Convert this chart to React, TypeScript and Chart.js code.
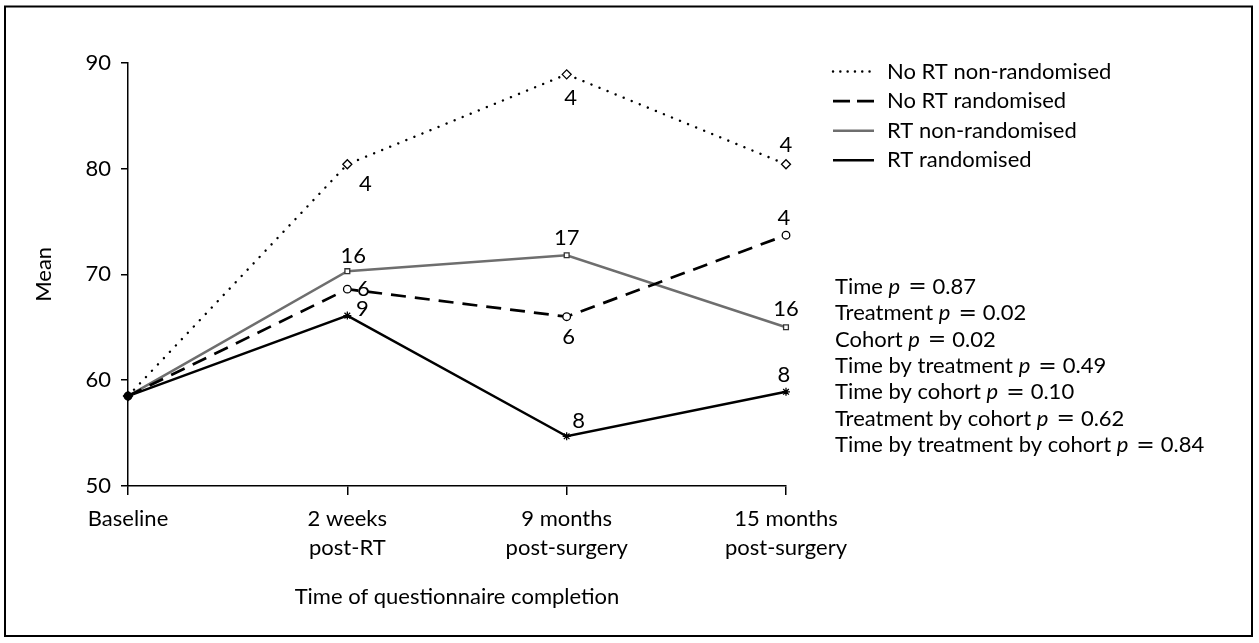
import React, { useEffect, useRef } from "react";
import { Chart, registerables } from "chart.js";

Chart.register(...registerables);

// ---------- data ----------
const categories = [
  ["Baseline"],
  ["2 weeks", "post-RT"],
  ["9 months", "post-surgery"],
  ["15 months", "post-surgery"],
];
const seriesNames = ["No RT non-randomised", "No RT randomised", "RT non-randomised", "RT randomised"];
const noRtNonRand = [58.5, 80.4, 88.9, 80.4];
const noRtRand = [58.5, 68.6, 66.0, 73.7];
const rtNonRand = [58.5, 70.3, 71.8, 65.0];
const rtRand = [58.5, 66.1, 54.7, 58.9];
const noRtNonRandN = ["", "4", "4", "4"];
const noRtRandN = ["", "6", "6", "4"];
const rtNonRandN = ["", "16", "17", "16"];
const rtRandN = ["", "9", "8", "8"];
const yMin = 50;
const yMax = 90;
const yStep = 10;
const yTitle = "Mean";
const xTitle = "Time of questionnaire completion";
const statNames = [
  "Time",
  "Treatment",
  "Cohort",
  "Time by treatment",
  "Time by cohort",
  "Treatment by cohort",
  "Time by treatment by cohort",
];
const statP = ["0.87", "0.02", "0.02", "0.49", "0.10", "0.62", "0.84"];

// ---------- styles ----------
const FONT = "Lato";
const FS = 22;
const GRAY = "#6e6e6e";
const labelOffsets = [
  [[0, 0], [18, 20], [4, 24], [0, -19]],
  [[0, 0], [16, 0], [2, 20], [-2, -17]],
  [[0, 0], [6, -15], [0, -17], [0, -18]],
  [[0, 0], [15, -7], [12, -15], [-2, -17]],
];
const nLabels = [noRtNonRandN, noRtRandN, rtNonRandN, rtRandN];

const annotPlugin = {
  id: "annot",
  afterDatasetsDraw(chart: any) {
    const ctx: CanvasRenderingContext2D = chart.ctx;
    ctx.save();
    // point n labels
    ctx.font = `${FS}px ${FONT}`;
    ctx.fillStyle = "#000";
    ctx.textAlign = "center";
    ctx.textBaseline = "middle";
    chart.data.datasets.forEach((ds: any, i: number) => {
      const meta = chart.getDatasetMeta(i);
      meta.data.forEach((pt: any, j: number) => {
        const t = nLabels[i][j];
        if (!t) return;
        ctx.fillText(t, pt.x + labelOffsets[i][j][0], pt.y + labelOffsets[i][j][1]);
      });
    });
    // legend
    const lx0 = 833, lx1 = 874, tx = 887, ly0 = 71.5, lstep = 29.6;
    chart.data.datasets.forEach((ds: any, i: number) => {
      const y = ly0 + i * lstep;
      ctx.save();
      ctx.strokeStyle = ds.borderColor;
      ctx.lineWidth = ds.borderWidth;
      ctx.lineCap = ds.borderCapStyle || "butt";
      ctx.setLineDash(ds.legendDash || []);
      ctx.beginPath();
      ctx.moveTo(lx0, y);
      ctx.lineTo(lx1, y);
      ctx.stroke();
      ctx.restore();
      ctx.textAlign = "left";
      ctx.textBaseline = "middle";
      ctx.fillStyle = "#000";
      ctx.font = `${FS}px ${FONT}`;
      ctx.fillText(ds.label, tx, y);
    });
    // stats
    const sx = 835, sy0 = 286.7, sstep = 26.4;
    ctx.textAlign = "left";
    ctx.textBaseline = "middle";
    statNames.forEach((name, k) => {
      const y = sy0 + k * sstep;
      let x = sx;
      ctx.font = `${FS}px ${FONT}`;
      const a = name + " ";
      ctx.fillText(a, x, y);
      x += ctx.measureText(a).width;
      ctx.font = `italic ${FS}px ${FONT}`;
      ctx.fillText("p", x, y);
      x += ctx.measureText("p").width + 8;
      ctx.font = `${FS}px "DejaVu Sans"`;
      ctx.fillText("=", x, y + 1);
      x += ctx.measureText("=").width + 6;
      ctx.font = `${FS}px ${FONT}`;
      ctx.fillText(statP[k], x, y);
    });
    // figure frame
    ctx.strokeStyle = "#000";
    ctx.lineWidth = 2;
    ctx.setLineDash([]);
    ctx.strokeRect(5, 6.5, 1247, 629.5);
    ctx.restore();
  },
};

export default function App() {
  const ref = useRef<HTMLCanvasElement>(null);
  useEffect(() => {
    if (!ref.current) return;
    const chart = new Chart(ref.current, {
      type: "line",
      data: {
        labels: categories as any,
        datasets: [
          {
            label: seriesNames[0],
            data: noRtNonRand,
            borderColor: "#000",
            borderWidth: 2.4,
            borderDash: [0.1, 8.6],
            borderCapStyle: "round",
            legendDash: [0.1, 7.2],
            pointStyle: "rectRot",
            pointRadius: 4.5,
            pointBorderWidth: 1.3,
            pointBorderColor: "#000",
            pointBackgroundColor: ["#000", "#fff", "#fff", "#fff"],
            tension: 0,
          } as any,
          {
            label: seriesNames[1],
            data: noRtRand,
            borderColor: "#000",
            borderWidth: 2.7,
            borderDash: [15, 9],
            legendDash: [17, 7],
            pointStyle: "circle",
            pointRadius: 3.8,
            pointBorderWidth: 1.3,
            pointBorderColor: "#000",
            pointBackgroundColor: ["#000", "#fff", "#fff", "#fff"],
            tension: 0,
          } as any,
          {
            label: seriesNames[2],
            data: rtNonRand,
            borderColor: GRAY,
            borderWidth: 2.5,
            pointStyle: "rect",
            pointRadius: 3.4,
            pointBorderWidth: 1.3,
            pointBorderColor: "#333",
            pointBackgroundColor: ["#000", "#fff", "#fff", "#fff"],
            tension: 0,
          } as any,
          {
            label: seriesNames[3],
            data: rtRand,
            borderColor: "#000",
            borderWidth: 2.5,
            pointStyle: "star",
            pointRadius: 4,
            pointBorderWidth: 1.3,
            pointBorderColor: "#000",
            pointBackgroundColor: "#000",
            tension: 0,
          } as any,
        ],
      },
      options: {
        animation: false,
        responsive: false,
        events: [],
        layout: { padding: { left: 0, right: 1259 - 786, top: 62.7, bottom: 0 } },
        plugins: { legend: { display: false }, tooltip: { enabled: false } },
        datasets: { line: { clip: false } as any },
        scales: {
          x: {
            type: "category",
            offset: false,
            afterFit: (s: any) => {
              s.height = 157;
            },
            grid: {
              display: true,
              drawOnChartArea: false,
              drawTicks: true,
              tickLength: 9,
              color: "#000",
              lineWidth: 1.5,
            },
            border: { display: true, color: "#000", width: 1.5 },
            ticks: {
              color: "#000",
              padding: 9,
              maxRotation: 0,
              autoSkip: false,
              font: { family: FONT, size: FS, lineHeight: 1.33 },
            },
            title: {
              display: true,
              text: xTitle,
              color: "#000",
              font: { family: FONT, size: FS },
              padding: { top: 0, bottom: 33 },
            },
          },
          y: {
            min: yMin,
            max: yMax,
            afterFit: (s: any) => {
              s.width = 128;
            },
            grid: {
              display: true,
              drawOnChartArea: false,
              drawTicks: true,
              tickLength: 7,
              color: "#000",
              lineWidth: 1.5,
            },
            border: { display: true, color: "#000", width: 1.5 },
            ticks: {
              stepSize: yStep,
              color: "#000",
              padding: 10,
              font: { family: FONT, size: FS },
            },
            title: {
              display: true,
              text: yTitle,
              color: "#000",
              font: { family: FONT, size: FS },
              padding: { top: 31, bottom: 0 },
            },
          },
        },
      },
      plugins: [annotPlugin],
    } as any);
    return () => chart.destroy();
  }, []);
  return (
    <div style={{ position: "absolute", left: 0, top: 0, width: 1259, height: 643, background: "#fff" }}>
      <canvas ref={ref} width={1259} height={643} style={{ display: "block" }} />
    </div>
  );
}
